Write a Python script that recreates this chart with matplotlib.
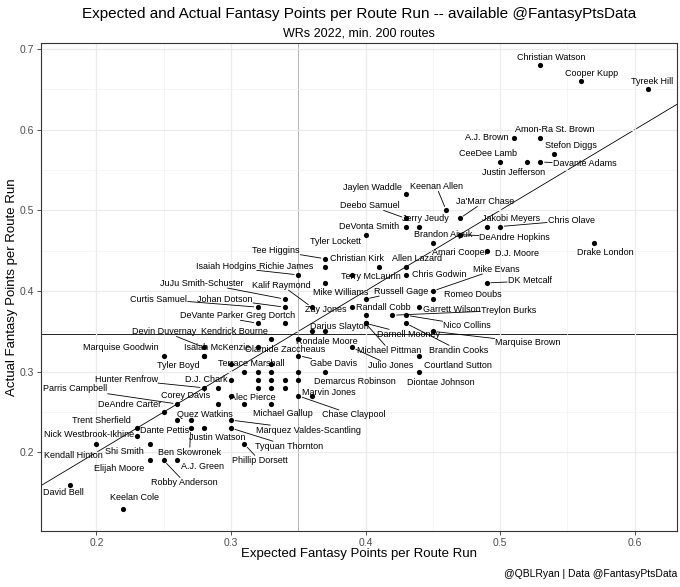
import numpy as np
import matplotlib
matplotlib.use("Agg")
import matplotlib.pyplot as plt

plt.rcParams["font.family"] = ["Liberation Sans", "DejaVu Sans"]

# expected (x) and actual (y) fantasy points per route run, WRs 2022
players = [
    "Christian Watson", "Cooper Kupp", "Tyreek Hill", "A.J. Brown", "Amon-Ra St. Brown",
    "Stefon Diggs", "CeeDee Lamb", "Justin Jefferson", "Davante Adams", "Jaylen Waddle",
    "Keenan Allen", "Deebo Samuel", "Ja'Marr Chase", "Jerry Jeudy", "DeVonta Smith",
    "Jakobi Meyers", "Chris Olave", "Tyler Lockett", "Brandon Aiyuk", "DeAndre Hopkins",
    "Amari Cooper", "Drake London", "D.J. Moore", "Tee Higgins", "Allen Lazard",
    "Christian Kirk", "Richie James", "Isaiah Hodgins", "Terry McLaurin", "Chris Godwin",
    "Mike Williams", "DK Metcalf", "Mike Evans", "Russell Gage", "Romeo Doubs",
    "JuJu Smith-Schuster", "Kalif Raymond", "Zay Jones", "Curtis Samuel", "Johan Dotson",
    "Garrett Wilson", "Randall Cobb", "Treylon Burks", "Nico Collins", "Brandin Cooks",
    "Darnell Mooney", "Michael Pittman", "DeVante Parker", "Greg Dortch", "Darius Slayton",
    "Marquise Brown", "Kendrick Bourne", "Rondale Moore", "Devin Duvernay", "Olamide Zaccheaus",
    "Julio Jones", "Isaiah McKenzie", "Tyler Boyd", "Marquise Goodwin", "Gabe Davis",
    "Courtland Sutton", "Terrace Marshall", "Demarcus Robinson", "Diontae Johnson", "D.J. Chark",
    "Hunter Renfrow", "Marvin Jones", "Chase Claypool", "Parris Campbell", "Corey Davis",
    "Alec Pierce", "Michael Gallup", "DeAndre Carter", "Quez Watkins", "Dante Pettis",
    "Marquez Valdes-Scantling", "Trent Sherfield", "Ben Skowronek", "Justin Watson", "Tyquan Thornton",
    "Nick Westbrook-Ikhine", "Kendall Hinton", "Shi Smith", "Phillip Dorsett", "Elijah Moore",
    "Robby Anderson", "A.J. Green", "David Bell", "Keelan Cole",
    # players whose labels were dropped by the repel step
    "", "", "", "", "", "", "", "", "", "", "", "", "", "", "",
]
xfp_rr = [
    0.53, 0.56, 0.61, 0.51, 0.53,
    0.54, 0.50, 0.52, 0.53, 0.43,
    0.46, 0.43, 0.47, 0.44, 0.43,
    0.49, 0.50, 0.40, 0.47, 0.47,
    0.45, 0.57, 0.49, 0.37, 0.43,
    0.41, 0.37, 0.35, 0.39, 0.43,
    0.37, 0.49, 0.45, 0.40, 0.45,
    0.34, 0.36, 0.39, 0.32, 0.34,
    0.44, 0.40, 0.42, 0.43, 0.43,
    0.40, 0.40, 0.32, 0.34, 0.37,
    0.45, 0.33, 0.35, 0.28, 0.32,
    0.39, 0.28, 0.28, 0.25, 0.35,
    0.44, 0.33, 0.37, 0.44, 0.30,
    0.28, 0.36, 0.35, 0.26, 0.29,
    0.31, 0.33, 0.25, 0.27, 0.26,
    0.30, 0.23, 0.27, 0.28, 0.30,
    0.23, 0.20, 0.24, 0.31, 0.24,
    0.25, 0.26, 0.18, 0.22,
    0.36, 0.30, 0.31, 0.32, 0.33, 0.35, 0.32, 0.33, 0.34, 0.35, 0.29, 0.32, 0.33, 0.34, 0.30,
]
fp_rr = [
    0.68, 0.66, 0.65, 0.59, 0.59,
    0.57, 0.56, 0.56, 0.56, 0.52,
    0.50, 0.49, 0.49, 0.48, 0.48,
    0.48, 0.48, 0.47, 0.47, 0.47,
    0.46, 0.46, 0.45, 0.44, 0.43,
    0.43, 0.43, 0.42, 0.42, 0.42,
    0.41, 0.41, 0.40, 0.39, 0.39,
    0.39, 0.38, 0.38, 0.38, 0.38,
    0.38, 0.37, 0.37, 0.37, 0.36,
    0.36, 0.36, 0.36, 0.36, 0.35,
    0.35, 0.34, 0.34, 0.33, 0.33,
    0.33, 0.32, 0.32, 0.32, 0.32,
    0.32, 0.31, 0.30, 0.30, 0.29,
    0.28, 0.27, 0.27, 0.26, 0.26,
    0.26, 0.26, 0.25, 0.24, 0.24,
    0.24, 0.23, 0.23, 0.23, 0.23,
    0.22, 0.21, 0.21, 0.21, 0.19,
    0.19, 0.19, 0.16, 0.13,
    0.35, 0.31, 0.30, 0.30, 0.30, 0.30, 0.29, 0.29, 0.29, 0.29, 0.28, 0.28, 0.28, 0.28, 0.27,
]
# league averages used for the quadrant lines
avg_xfp_rr = 0.35
avg_fp_rr = 0.347

# label placement (pixel offset of label centre from its point), as ggrepel left them
label_offsets = {
    "Christian Watson": (11, 8), "Cooper Kupp": (11, 8), "Tyreek Hill": (4, 8),
    "Amon-Ra St. Brown": (14, 8), "A.J. Brown": (-27, 0), "Stefon Diggs": (17, 8),
    "CeeDee Lamb": (-12, 8), "Justin Jefferson": (-13, -11), "Davante Adams": (44, -2),
    "Jaylen Waddle": (-33, 7), "Keenan Allen": (-10, 24), "Deebo Samuel": (-36, 13),
    "Ja'Marr Chase": (25, 17), "Jerry Jeudy": (6, 8), "DeVonta Smith": (-37, 0),
    "Jakobi Meyers": (24, 8), "Chris Olave": (71, 6), "Tyler Lockett": (-30, -7),
    "Brandon Aiyuk": (-17, 0), "DeAndre Hopkins": (55, -3), "Amari Cooper": (27, -10),
    "Drake London": (11, -10), "D.J. Moore": (30, -3), "Tee Higgins": (-49, 8),
    "Allen Lazard": (11, 8), "Christian Kirk": (-22, 8), "Richie James": (-39, 0),
    "Isaiah Hodgins": (-72, 8), "Terry McLaurin": (19, -2), "Chris Godwin": (33, 0),
    "Mike Williams": (16, -10), "DK Metcalf": (43, 2), "Mike Evans": (64, 22),
    "Russell Gage": (36, 8), "Romeo Doubs": (40, 5), "JuJu Smith-Schuster": (-83, 16),
    "Kalif Raymond": (-30, 22), "Zay Jones": (-26, -2), "Curtis Samuel": (-99, 8),
    "Johan Dotson": (-60, 8), "Garrett Wilson": (32, -2), "Randall Cobb": (18, 8),
    "Treylon Burks": (116, 5), "Nico Collins": (61, -10), "Brandin Cooks": (53, -27),
    "Darnell Mooney": (43, -11), "Michael Pittman": (24, -27), "DeVante Parker": (-46, 8),
    "Greg Dortch": (-14, 8), "Darius Slayton": (14, 5), "Marquise Brown": (95, -11),
    "Kendrick Bourne": (-37, 8), "Rondale Moore": (29, -2), "Devin Duvernay": (-40, 16),
    "Olamide Zaccheaus": (27, -2), "Julio Jones": (39, -18), "Isaiah McKenzie": (13, 8),
    "Tyler Boyd": (-26, -10), "Marquise Goodwin": (-43, 8), "Gabe Davis": (35, -8),
    "Courtland Sutton": (39, -10), "Terrace Marshall": (-20, 0), "Demarcus Robinson": (30, -10),
    "Diontae Johnson": (21, -11), "D.J. Chark": (-25, 0), "Hunter Renfrow": (-78, 8),
    "Marvin Jones": (17, 3), "Chase Claypool": (55, -19), "Parris Campbell": (-102, 15),
    "Corey Davis": (-32, 8), "Alec Pierce": (8, 6), "Michael Gallup": (12, -10),
    "DeAndre Carter": (-34, 8), "Quez Watkins": (14, 6), "Dante Pettis": (-13, -10),
    "Marquez Valdes-Scantling": (78, -10), "Trent Sherfield": (-35, 8), "Ben Skowronek": (-1, -24),
    "Justin Watson": (13, -9), "Tyquan Thornton": (58, -18), "Nick Westbrook-Ikhine": (-48, 2),
    "Kendall Hinton": (-23, -11), "Shi Smith": (-26, -7), "Phillip Dorsett": (15, -16),
    "Elijah Moore": (-31, -8), "Robby Anderson": (21, -22), "A.J. Green": (25, -6),
    "David Bell": (-6, -8), "Keelan Cole": (11, 11),
}
with_segment = {
    "Davante Adams", "Keenan Allen", "Deebo Samuel", "Ja'Marr Chase", "Chris Olave",
    "DeAndre Hopkins", "Tee Higgins", "Isaiah Hodgins", "DK Metcalf", "Mike Evans",
    "Russell Gage", "JuJu Smith-Schuster", "Kalif Raymond", "Curtis Samuel", "Johan Dotson",
    "Treylon Burks", "Nico Collins", "Brandin Cooks", "Darnell Mooney", "Michael Pittman",
    "DeVante Parker", "Marquise Brown", "Devin Duvernay", "Julio Jones", "Gabe Davis",
    "Hunter Renfrow", "Chase Claypool", "Parris Campbell", "Marquez Valdes-Scantling",
    "Ben Skowronek", "Tyquan Thornton", "Phillip Dorsett", "Robby Anderson",
}

x = np.array(xfp_rr)
y = np.array(fp_rr)

W, H = 680, 587
fig = plt.figure(figsize=(W / 100, H / 100), dpi=100)
# panel placed in pixel terms
left, right, top, bottom = 40.6, 677, 43, 531
ax = fig.add_axes([left / W, 1 - bottom / H, (right - left) / W, (bottom - top) / H])

# ggplot-style 5% expansion
xr = x.max() - x.min()
yr = y.max() - y.min()
ax.set_xlim(x.min() - 0.05 * xr, x.max() + 0.05 * xr)
ax.set_ylim(y.min() - 0.05 * yr, y.max() + 0.05 * yr)

ax.set_xticks([0.2, 0.3, 0.4, 0.5, 0.6])
ax.set_yticks([0.2, 0.3, 0.4, 0.5, 0.6, 0.7])
ax.set_xticks([0.25, 0.35, 0.45, 0.55], minor=True)
ax.set_yticks([0.25, 0.35, 0.45, 0.55, 0.65], minor=True)
ax.grid(True, which="major", color="#EBEBEB", lw=0.9, zorder=0)
ax.grid(True, which="minor", color="#F2F2F2", lw=0.5, zorder=0)
ax.tick_params(which="major", length=3, width=0.6, color="#333333",
               labelsize=7.5, labelcolor="#4D4D4D", pad=2)
ax.tick_params(which="minor", length=0)
for s in ax.spines.values():
    s.set_color("#333333")
    s.set_linewidth(0.8)

ax.axline((0, 0), slope=1, color="black", lw=0.6, zorder=1)
ax.axvline(avg_xfp_rr, color="black", lw=0.6, zorder=1)
ax.axhline(avg_fp_rr, color="black", lw=0.6, zorder=1)

ax.scatter(x, y, s=14, color="black", zorder=3, linewidths=0)

for name, xi, yi in zip(players, x, y):
    if not name:
        continue
    dx, dy = label_offsets[name]
    props = None
    if name in with_segment:
        props = dict(arrowstyle="-", color="black", lw=0.6, shrinkA=0, shrinkB=3)
    ax.annotate(name, (xi, yi), xytext=(dx, dy), textcoords="offset pixels",
                ha="center", va="center", fontsize=6.5, color="black", zorder=4,
                bbox=dict(boxstyle="square,pad=0.05", fc="none", ec="none"),
                arrowprops=props)

ax.set_xlabel("Expected Fantasy Points per Route Run", fontsize=9.5, va="center")
ax.xaxis.set_label_coords(0.5, -(554 - bottom) / (bottom - top))
ax.set_ylabel("Actual Fantasy Points per Route Run", fontsize=9.5, va="center")
ax.yaxis.set_label_coords(-(left - 12) / (right - left), 0.5)

cx = (left + right) / 2 / W
fig.text(cx, 1 - 14 / H, "Expected and Actual Fantasy Points per Route Run -- available @FantasyPtsData",
         ha="center", va="center", fontsize=11)
fig.text(cx, 1 - 33 / H, "WRs 2022, min. 200 routes", ha="center", va="center", fontsize=9)
fig.text(right / W, 1 - 574 / H, "@QBLRyan | Data @FantasyPtsData", ha="right", va="center", fontsize=7.5)

fig.savefig("out.png", dpi=100, facecolor="white")
